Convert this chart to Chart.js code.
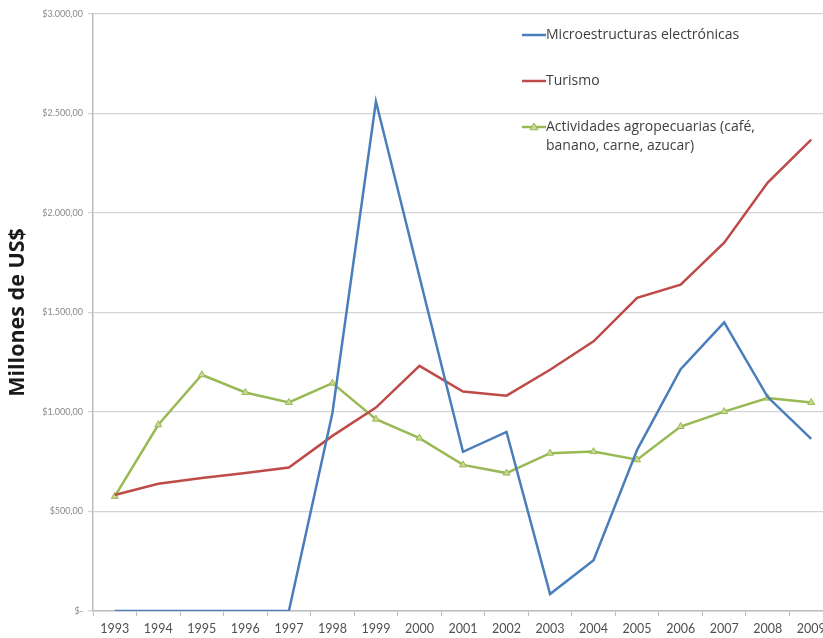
<!DOCTYPE html>
<html>
<head>
<meta charset="utf-8">
<script src="https://cdn.jsdelivr.net/npm/chart.js@4"></script>
<style>
html,body{margin:0;padding:0;background:#fff;overflow:hidden;}
#wrap{width:838px;height:638px;}
</style>
</head>
<body>
<div id="wrap"><canvas id="c" width="838" height="638"></canvas></div>
<script>
const years = ['1993','1994','1995','1996','1997','1998','1999','2000','2001','2002','2003','2004','2005','2006','2007','2008','2009'];
const seriesNames = ['Microestructuras electrónicas','Turismo','Actividades agropecuarias (café, banano, carne, azucar)'];
const microestructuras = [0,0,0,0,0,995,2560,1680,800,900,85,255,810,1215,1450,1075,865];
const turismo = [583,639,668,694,721,880,1022,1232,1103,1082,1212,1355,1574,1640,1851,2153,2369];
const agropecuarias = [576,936,1187,1098,1048,1145,964,869,734,693,793,801,760,927,1002,1070,1048];
const yTickLabels = ['$-','$500,00','$1.000,00','$1.500,00','$2.000,00','$2.500,00','$3.000,00'];
const yAxisTitle = 'Millones de US$';

const legendPlugin = {
  id: 'insideLegend',
  afterDraw(chart) {
    const ctx = chart.ctx;
    const x0 = 522, lineLen = 24, textX = 546;
    const rows = [35, 81, 127];
    ctx.save();
    ctx.font = '14px "Open Sans"';
    ctx.textBaseline = 'middle';
    ctx.textAlign = 'left';
    chart.data.datasets.forEach((ds, i) => {
      const y = rows[i];
      ctx.strokeStyle = ds.borderColor;
      ctx.lineWidth = 2.5;
      ctx.beginPath();
      ctx.moveTo(x0, y);
      ctx.lineTo(x0 + lineLen, y);
      ctx.stroke();
      if (ds.pointRadius > 0) {
        const r = 4, cx = x0 + lineLen / 2;
        ctx.beginPath();
        ctx.moveTo(cx, y - r);
        ctx.lineTo(cx + r, y + r * 0.7);
        ctx.lineTo(cx - r, y + r * 0.7);
        ctx.closePath();
        ctx.fillStyle = ds.pointBackgroundColor;
        ctx.fill();
        ctx.lineWidth = 1;
        ctx.strokeStyle = ds.borderColor;
        ctx.stroke();
      }
      ctx.fillStyle = '#404040';
      const words = ds.label.split(' ');
      const lines = [];
      let cur = '';
      words.forEach(w => {
        const t = cur ? cur + ' ' + w : w;
        if (ctx.measureText(t).width > 245 && cur) { lines.push(cur); cur = w; }
        else cur = t;
      });
      if (cur) lines.push(cur);
      lines.forEach((ln, k) => ctx.fillText(ln, textX, y + k * 19));
    });
    ctx.restore();
  }
};

new Chart(document.getElementById('c'), {
  type: 'line',
  data: {
    labels: years,
    datasets: [
      {label: seriesNames[0], data: microestructuras, borderColor: '#4A7EBB', backgroundColor: '#4A7EBB', borderWidth: 2.5, pointRadius: 0, tension: 0},
      {label: seriesNames[1], data: turismo, borderColor: '#BE4B48', backgroundColor: '#BE4B48', borderWidth: 2.5, pointRadius: 0, tension: 0},
      {label: seriesNames[2], data: agropecuarias, borderColor: '#98B954', backgroundColor: '#98B954', borderWidth: 2.5, pointRadius: 4, pointStyle: 'triangle', pointBackgroundColor: '#C9D98F', pointBorderColor: '#98B954', pointBorderWidth: 1, tension: 0}
    ]
  },
  options: {
    responsive: false,
    animation: false,
    layout: {padding: {top: 14, left: 0, right: 0, bottom: 0}},
    plugins: {legend: {display: false}, tooltip: {enabled: false}},
    scales: {
      x: {
        offset: true,
        grid: {offset: true, drawOnChartArea: false, tickLength: 5, color: '#bdbdbd'},
        border: {color: '#bdbdbd', width: 1.5},
        ticks: {font: {family: 'Lato', size: 12.5}, color: '#505050', padding: 5, maxRotation: 0, autoSkip: false},
        afterFit(s) { s.height = 27; }
      },
      y: {
        min: 0, max: 3000,
        grid: {color: '#d4d4d4', lineWidth: 1.2, tickLength: 5},
        border: {color: '#bdbdbd', width: 1.5},
        ticks: {
          stepSize: 500,
          font: {family: 'Lato', size: 9},
          color: '#8a8a8a',
          padding: 5,
          callback: (v) => yTickLabels[Math.round(v / 500)]
        },
        title: {display: true, text: yAxisTitle, font: {family: 'Open Sans', size: 21.5, weight: 'bold'}, color: '#1a1a1a', padding: {top: 5, bottom: 0}},
        afterFit(s) { s.width = 93; }
      }
    }
  },
  plugins: [legendPlugin]
});
</script>
</body>
</html>
